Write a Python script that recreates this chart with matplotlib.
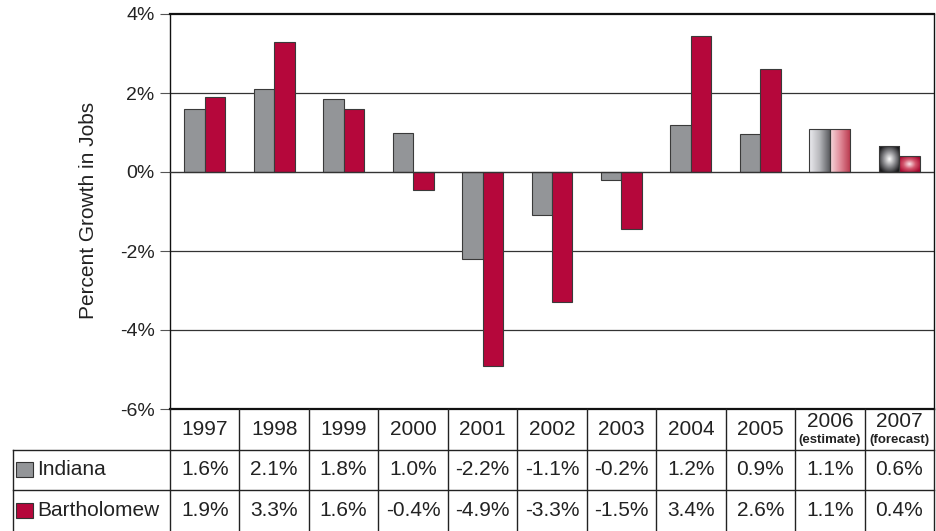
import numpy as np
import matplotlib
matplotlib.use("Agg")
import matplotlib.pyplot as plt
from matplotlib.colors import LinearSegmentedColormap
from matplotlib.patches import Rectangle

plt.rcParams['font.family'] = ['Liberation Sans', 'DejaVu Sans']

# data
years = ["1997", "1998", "1999", "2000", "2001", "2002", "2003", "2004", "2005", "2006", "2007"]
year_notes = ["", "", "", "", "", "", "", "", "", "(estimate)", "(forecast)"]
indiana = [1.6, 2.1, 1.85, 1.0, -2.2, -1.1, -0.2, 1.2, 0.95, 1.1, 0.65]
bartholomew = [1.9, 3.3, 1.6, -0.45, -4.9, -3.3, -1.45, 3.45, 2.6, 1.1, 0.4]
indiana_labels = ["1.6%", "2.1%", "1.8%", "1.0%", "-2.2%", "-1.1%", "-0.2%", "1.2%", "0.9%", "1.1%", "0.6%"]
bartholomew_labels = ["1.9%", "3.3%", "1.6%", "-0.4%", "-4.9%", "-3.3%", "-1.5%", "3.4%", "2.6%", "1.1%", "0.4%"]
series_names = ["Indiana", "Bartholomew"]
yticks = [4, 2, 0, -2, -4, -6]

GRAY = "#939598"
RED = "#b5073b"
TXT = "#222222"
W, H = 936, 531

fig = plt.figure(figsize=(W / 100, H / 100), dpi=100)

# main axes in pixel terms: left 170, right 934, top 14, bottom 409
L, R, T, B = 170, 934, 14, 409
ax = fig.add_axes([L / W, 1 - B / H, (R - L) / W, (B - T) / H])

x = np.arange(len(years))
bw = 0.295
bars_i = ax.bar(x - bw / 2, indiana, bw, color=GRAY, edgecolor="#3a3a3a", linewidth=0.8, zorder=3)
bars_b = ax.bar(x + bw / 2, bartholomew, bw, color=RED, edgecolor="#3a3a3a", linewidth=0.8, zorder=3)


def fill_gradient(bar, cmap, kind):
    bx, by = bar.get_x(), bar.get_y()
    bwid, bh = bar.get_width(), bar.get_height()
    gx, gy = np.meshgrid(np.linspace(-1, 1, 60), np.linspace(-1, 1, 60))
    if kind == "linear":
        img = (gx + 1) / 2
    else:
        img = np.clip(np.sqrt(gx ** 2 + gy ** 2) / 1.2, 0, 1)
    bar.set_facecolor("none")
    im = ax.imshow(img, cmap=cmap, extent=[bx, bx + bwid, by, by + bh],
                   aspect="auto", origin="lower", zorder=2.5, vmin=0, vmax=1)
    im.set_clip_path(bar)


gray_lin = LinearSegmentedColormap.from_list("gl", ["#ececf0", "#b8b9bd", "#5b5c60"])
red_lin = LinearSegmentedColormap.from_list("rl", ["#f7d9dd", "#e08a98", "#b8354a"])
gray_rad = LinearSegmentedColormap.from_list("gr", ["#ffffff", "#8a8a8e", "#1a1a1c"])
red_rad = LinearSegmentedColormap.from_list("rr", ["#fbe6ea", "#d2556c", "#a8072f"])

fill_gradient(bars_i[9], gray_lin, "linear")
fill_gradient(bars_b[9], red_lin, "linear")
fill_gradient(bars_i[10], gray_rad, "radial")
fill_gradient(bars_b[10], red_rad, "radial")

ax.set_xlim(-0.5, len(years) - 0.5)
ax.set_ylim(-6, 4)
ax.set_yticks(yticks)
ax.set_yticklabels([f"{v}%" for v in yticks], fontsize=14, color=TXT)
ax.set_xticks([])
ax.tick_params(axis="y", direction="out", length=7, width=0.8, color="#555555", pad=4)
for yv in [2, -2, -4]:
    ax.axhline(yv, color="#333333", linewidth=0.9, zorder=1)
ax.axhline(0, color="#333333", linewidth=1.0, zorder=4)
ax.spines["top"].set_linewidth(1.6)
ax.spines["bottom"].set_linewidth(1.6)
ax.spines["left"].set_linewidth(1.0)
ax.spines["right"].set_linewidth(1.0)
for s in ax.spines.values():
    s.set_color("#111111")
fig.text(89 / W, 1 - 210 / H, "Percent Growth in Jobs", rotation=90, ha="center", va="center",
         fontsize=15, color=TXT)

# table below
TL = 13
tax = fig.add_axes([TL / W, 0, (R - TL) / W, (H - B) / H])
col_w = (R - L) / len(years)
left_x = -0.5 - (L - TL) / col_w
tax.set_xlim(left_x, len(years) - 0.5)
row_h = 40.5
tax.set_ylim(0, (H - B) / row_h)
tax.axis("off")
top = (H - B) / row_h
lc = "#222222"
# horizontal lines
tax.plot([left_x, len(years) - 0.5], [top - 1, top - 1], color=lc, lw=1.0, clip_on=False)
tax.plot([left_x, len(years) - 0.5], [top - 2, top - 2], color=lc, lw=1.0, clip_on=False)
# vertical lines
for i in range(len(years) + 1):
    tax.plot([i - 0.5, i - 0.5], [0, top], color=lc, lw=1.0, clip_on=False)
tax.plot([left_x, left_x], [0, top - 1], color=lc, lw=1.0, clip_on=False)

fs = 15
for i, (yr, note) in enumerate(zip(years, year_notes)):
    if note:
        tax.text(i, top - 0.31, yr, ha="center", va="center", fontsize=fs, color=lc)
        tax.text(i, top - 0.76, note, ha="center", va="center", fontsize=9.5, fontweight="bold",
                 color=lc)
    else:
        tax.text(i, top - 0.5, yr, ha="center", va="center", fontsize=fs, color=lc)
    tax.text(i, top - 1.5, indiana_labels[i], ha="center", va="center", fontsize=fs, color=lc)
    tax.text(i, top - 2.5, bartholomew_labels[i], ha="center", va="center", fontsize=fs, color=lc)

for r, (name, col) in enumerate(zip(series_names, [GRAY, RED])):
    yc = top - 1.5 - r
    tax.add_patch(Rectangle((left_x + 3 / col_w, yc - 7.5 / row_h), 17 / col_w, 15 / row_h,
                            facecolor=col, edgecolor="#333333", lw=0.8, clip_on=False))
    tax.text(left_x + 24 / col_w, yc, name, ha="left", va="center", fontsize=fs, color=lc)

fig.savefig("out.png", dpi=100)
